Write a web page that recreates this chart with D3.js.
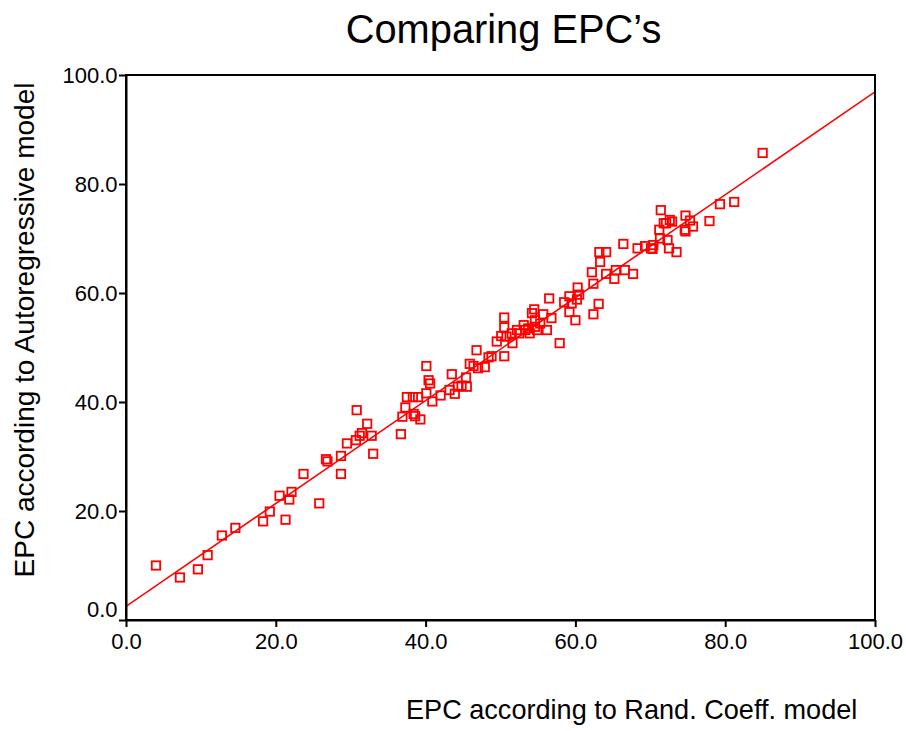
<!DOCTYPE html>
<html>
<head>
<meta charset="utf-8">
<script src="https://cdn.jsdelivr.net/npm/d3@7"></script>
<style>
  html, body { margin: 0; padding: 0; background: #fff; }
  svg { display: block; font-family: "Liberation Sans", Arial, sans-serif; }
</style>
</head>
<body>
<svg id="chart" width="906" height="731"></svg>
<script>
// ---- data ----
const titleText = "Comparing EPC\u2019s";
const xLabel = "EPC according to Rand. Coeff. model";
const yLabel = "EPC according to Autoregressive model";
const xTicks = [0, 20, 40, 60, 80, 100];
const yTicks = [0, 20, 40, 60, 80, 100];
const fitLine = [2.5, 0.944]; // intercept, slope

const epcRandCoeff = [
  4.0, 7.2, 9.6, 10.9, 12.8, 14.6, 18.3, 19.2, 21.3, 20.5, 21.8, 22.1, 25.8,
  23.7, 28.7, 26.7, 26.9, 28.7, 29.5, 30.7, 31.2, 31.5, 32.8, 32.2, 30.8, 33.0,
  36.7, 36.9, 37.3, 37.5, 38.3, 39.0, 38.4, 38.6, 39.3,
  40.1, 40.4, 40.6, 40.1, 40.9, 42.0, 43.2, 43.9, 43.5, 44.3, 44.8, 45.5, 45.4,
  45.9, 46.4, 47.0, 47.9, 46.8, 48.4, 48.8, 50.5, 49.5, 50.1, 50.8, 50.5, 50.5,
  51.6, 51.5, 52.2, 52.5, 53.1, 53.3, 53.7, 53.9, 54.6, 54.2, 54.5, 54.6, 55.3,
  55.7, 56.2, 54.9, 56.8, 56.5, 57.9, 58.5, 59.2, 59.5, 60.2, 60.3, 60.5, 59.2,
  60.0, 62.4, 63.1, 62.4, 62.2, 63.3, 63.2, 64.1, 64.1, 65.2, 65.4, 66.6, 67.7,
  66.4, 68.3, 69.3, 70.1, 70.4, 71.2, 71.3, 72.3, 72.5, 73.5, 72.1, 72.9, 74.6,
  75.7, 77.9, 85.0, 79.3, 81.2, 71.4, 74.7, 75.3, 72.6, 71.8, 74.7, 70.3
];
const epcAutoregressive = [
  10.0, 7.8, 9.3, 11.9, 15.5, 16.9, 18.1, 19.9, 18.4, 22.8, 22.1, 23.5, 21.4,
  26.8, 26.8, 29.5, 29.1, 30.1, 32.4, 33.0, 33.8, 34.3, 33.8, 36.0, 38.5, 30.5,
  34.1, 37.3, 39.0, 40.9, 40.9, 40.9, 37.8, 37.4, 36.8,
  46.6, 44.0, 43.4, 41.6, 40.1, 41.2, 42.2, 41.5, 45.1, 42.8, 43.0, 42.8, 44.5,
  47.0, 46.6, 46.2, 46.4, 49.5, 48.2, 48.4, 48.4, 51.1, 52.1, 52.0, 53.7, 55.5,
  50.8, 52.6, 53.2, 52.6, 54.1, 53.2, 53.5, 52.6, 53.8, 56.3, 57.0, 55.0, 54.4,
  56.1, 53.2, 53.2, 55.4, 59.0, 50.8, 58.3, 59.4, 58.1, 58.8, 61.0, 59.7, 56.5,
  55.0, 61.7, 58.0, 56.1, 63.8, 65.7, 67.5, 67.5, 63.5, 62.6, 64.2, 64.2, 63.5,
  69.0, 68.2, 68.6, 68.2, 68.8, 71.6, 70.0, 69.7, 68.2, 67.5, 72.8, 73.1, 71.6,
  72.2, 73.2, 85.7, 76.3, 76.7, 75.2, 74.2, 73.3, 73.4, 72.8, 71.3, 68.1
];

// ---- layout ----
const W = 906, H = 731;
const margin = { top: 75, right: 31, bottom: 111, left: 126 };
const pw = W - margin.left - margin.right;
const ph = H - margin.top - margin.bottom;
const red = "#ff0000";

const svg = d3.select("#chart");
const g = svg.append("g").attr("transform", `translate(${margin.left},${margin.top})`);

const x = d3.scaleLinear().domain([0, 100]).range([0, pw]);
const y = d3.scaleLinear().domain([0, 100]).range([ph, 0]);

// clip
svg.append("defs").append("clipPath").attr("id", "clip")
  .append("rect").attr("x", 0).attr("y", 0).attr("width", pw).attr("height", ph);

// regression line
const lineData = [0, 100].map(v => [v, fitLine[0] + fitLine[1] * v]);
g.append("path")
  .attr("clip-path", "url(#clip)")
  .attr("d", d3.line().x(d => x(d[0])).y(d => y(d[1]))(lineData))
  .attr("fill", "none")
  .attr("stroke", red)
  .attr("stroke-width", 1.6);

// points
const pts = epcRandCoeff.map((v, i) => [v, epcAutoregressive[i]]);
const s = 8.4;
g.append("g").selectAll("rect").data(pts).join("rect")
  .attr("x", d => x(d[0]) - s / 2)
  .attr("y", d => y(d[1]) - s / 2)
  .attr("width", s).attr("height", s)
  .attr("fill", "none")
  .attr("stroke", red)
  .attr("stroke-width", 1.8);

// frame
g.append("rect").attr("x", 0).attr("y", 0).attr("width", pw).attr("height", ph)
  .attr("fill", "none").attr("stroke", "#000").attr("stroke-width", 2);

// axes
const fmt = d3.format(".1f");
const xAxis = g.append("g").attr("transform", `translate(0,${ph})`)
  .call(d3.axisBottom(x).tickValues(xTicks).tickFormat(fmt).tickSize(7).tickSizeOuter(0).tickPadding(6.5));
const yAxis = g.append("g")
  .call(d3.axisLeft(y).tickValues(yTicks).tickFormat(fmt).tickSize(7).tickSizeOuter(0).tickPadding(1.5));

[xAxis, yAxis].forEach(a => {
  a.select(".domain").attr("stroke", "#000").attr("stroke-width", 2);
  a.selectAll(".tick line").attr("stroke", "#000").attr("stroke-width", 2);
  a.selectAll(".tick text").attr("fill", "#000").style("font-size", "22px")
    .style("font-family", '"Liberation Sans", Arial, sans-serif');
});
yAxis.selectAll(".tick").filter(d => d === 0).select("text").attr("y", -11);

// title
svg.append("text")
  .attr("x", 503.5).attr("y", 43)
  .attr("text-anchor", "middle")
  .style("font-size", "39.8px")
  .attr("fill", "#000")
  .text(titleText);

// x label
svg.append("text")
  .attr("x", 406).attr("y", 719)
  .attr("text-anchor", "start")
  .style("font-size", "27.1px")
  .attr("fill", "#000")
  .text(xLabel);

// y label
svg.append("text")
  .attr("transform", "translate(34,330) rotate(-90)")
  .attr("text-anchor", "middle")
  .style("font-size", "28px")
  .attr("fill", "#000")
  .text(yLabel);
</script>
</body>
</html>
